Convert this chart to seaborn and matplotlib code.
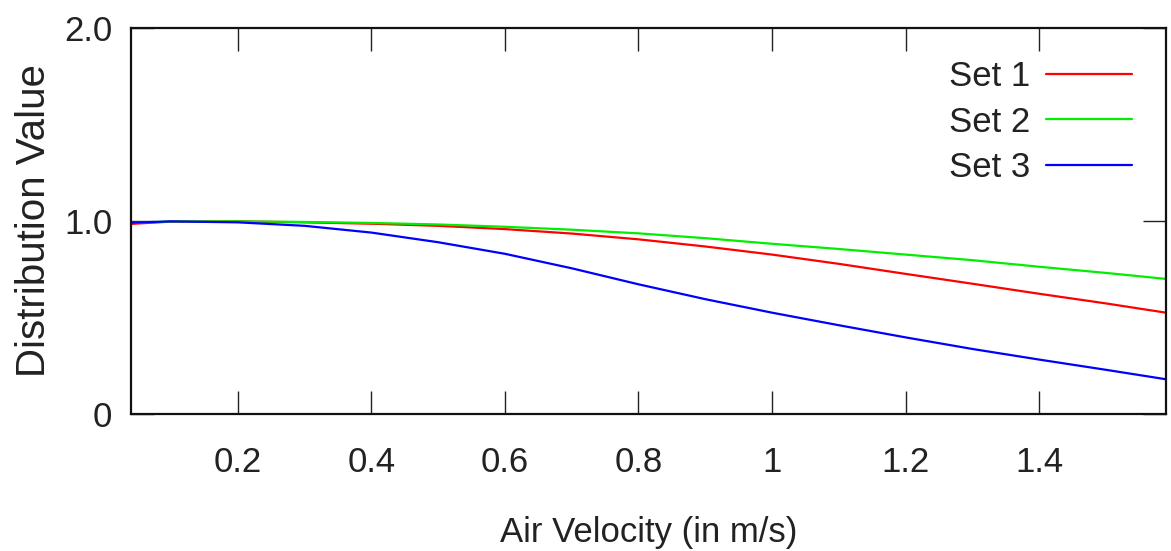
import matplotlib
matplotlib.use("Agg")
import matplotlib.pyplot as plt
import seaborn as sns
import pandas as pd

velocity = [0.04, 0.1, 0.2, 0.3, 0.4, 0.5, 0.6, 0.7, 0.8, 0.9, 1.0, 1.1, 1.2, 1.3, 1.4, 1.5, 1.59]
set1 = [0.985, 0.997, 0.998, 0.993, 0.986, 0.975, 0.958, 0.935, 0.905, 0.868, 0.826, 0.778, 0.726, 0.675, 0.623, 0.573, 0.525]
set2 = [0.990, 0.998, 0.998, 0.995, 0.990, 0.982, 0.970, 0.955, 0.936, 0.911, 0.882, 0.855, 0.826, 0.797, 0.763, 0.731, 0.700]
set3 = [0.991, 0.998, 0.993, 0.975, 0.940, 0.890, 0.830, 0.755, 0.672, 0.595, 0.525, 0.460, 0.397, 0.337, 0.282, 0.229, 0.180]
series_names = ["Set 1", "Set 2", "Set 3"]
colors = ["#ff0000", "#00ee00", "#0000ff"]
xticks = [0.2, 0.4, 0.6, 0.8, 1.0, 1.2, 1.4]
xtick_labels = ["0.2", "0.4", "0.6", "0.8", "1", "1.2", "1.4"]
yticks = [0, 1.0, 2.0]
ytick_labels = ["0", "1.0", "2.0"]

df = pd.concat([
    pd.DataFrame({"x": velocity, "y": vals, "series": name})
    for name, vals in zip(series_names, [set1, set2, set3])
])

sns.set_style("ticks")
plt.rcParams["font.family"] = ["Liberation Sans", "DejaVu Sans"]
plt.rcParams["font.size"] = 25

fig = plt.figure(figsize=(11.71, 5.51), dpi=100)
ax = fig.add_axes([131/1171, 1 - 414/551, (1166 - 131)/1171, (414 - 28)/551])

sns.lineplot(data=df, x="x", y="y", hue="series", palette=dict(zip(series_names, colors)),
             linewidth=1.6, ax=ax, legend=True)

ax.set_xlim(0.04, 1.59)
ax.set_ylim(0, 2.0)
ax.set_xticks(xticks)
ax.set_xticklabels(xtick_labels)
ax.set_yticks(yticks)
ax.set_yticklabels(ytick_labels)
ax.tick_params(direction="in", length=16.5, width=1.0, top=True, right=True,
               labelsize=25, colors="#222222")
ax.tick_params(axis="x", pad=23)
ax.tick_params(axis="y", pad=13.5)
for s in ax.spines.values():
    s.set_visible(True)
    s.set_linewidth(1.6)
    s.set_color("#111111")

ax.set_xlabel("Air Velocity (in m/s)", fontsize=25, labelpad=27, color="#222222")
ax.set_ylabel("Distribution Value", fontsize=29, labelpad=8, color="#222222")

handles, labels = ax.get_legend_handles_labels()
leg = ax.legend(handles, labels, loc="upper right", bbox_to_anchor=(0.981, 0.952),
                frameon=False, markerfirst=False, handlelength=2.5, handletextpad=0.45,
                labelspacing=0.35, fontsize=25, borderaxespad=0)
for t in leg.get_texts():
    t.set_color("#222222")

fig.savefig("out.png", dpi=100)
